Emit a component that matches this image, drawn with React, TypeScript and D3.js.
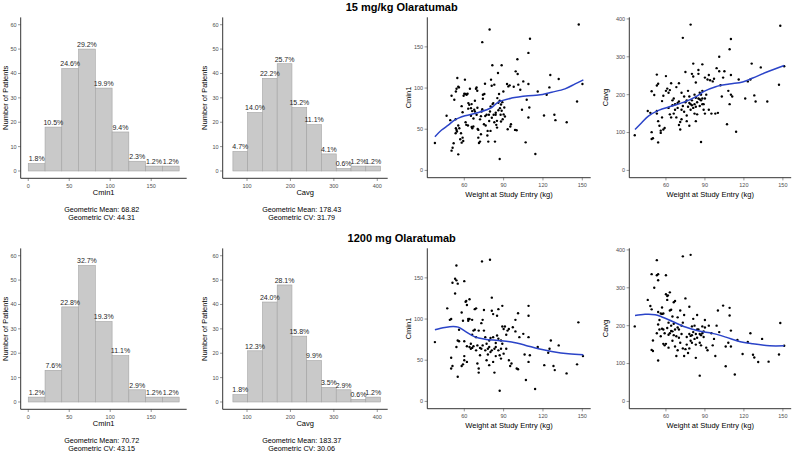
import React from 'react';
import * as d3 from 'd3';

const FONT = '"Liberation Sans", Arial, Helvetica, sans-serif';

// ---------- DATA ----------
const rowTitles = ['15 mg/kg Olaratumab', '1200 mg Olaratumab'];

const cmin1Edges = [0, 20.5, 40.9, 61.4, 81.8, 102.3, 122.7, 143.2, 163.6, 184.1];
const cavgEdges = [67.5, 101.5, 135.5, 169.5, 203.5, 237.5, 271.5, 305.5, 339.5, 373.5, 407.5];

const cmin1Counts15 = [3, 18, 42, 50, 34, 16, 4, 2, 2];
const cavgCounts15 = [8, 24, 38, 44, 26, 19, 7, 1, 2, 2];
const cmin1Counts1200 = [2, 13, 39, 56, 33, 19, 5, 2, 2];
const cavgCounts1200 = [3, 21, 41, 48, 27, 17, 6, 5, 1, 2];

const histYTicks = [0, 10, 20, 30, 40, 50, 60];
const cmin1HistTicks = [0, 50, 100, 150];
const cavgHistTicks = [100, 200, 300, 400];
const weightTicks = [60, 90, 120, 150];
const cmin1Ticks = [0, 50, 100, 150];
const cavgTicks = [0, 100, 200, 300, 400];

const geoStats15 = { cmin1: ['68.82', '44.31'], cavg: ['178.43', '31.79'] };
const geoStats1200 = { cmin1: ['70.72', '43.15'], cavg: ['183.37', '30.06'] };

// scatter: [weight (kg), concentration]
const scatter15Cmin1 = [
  [37.6,33.3],[46.5,66.3],[49.3,61],[50.3,90.7],[50.3,24],[51.1,27.6],[51.9,32.9],[52.4,85.8],[53.6,95.9],[54.1,99.2],
  [54.7,112.2],[55.4,101.6],[55.9,100.8],[53.4,62.2],[53.6,51.2],[53.4,45.1],[54.4,47.2],[54.1,49.2],[55.4,54.5],[56.2,51.2],
  [55.4,19.5],[56.9,37.8],[58,33.7],[59.2,35.8],[58.7,39.8],[57.5,45.1],[58,78],[58.7,70.7],[59.5,90.7],[60,93.1],
  [60.5,110.2],[61,92.7],[61.8,91.9],[62.5,93.1],[61.5,55.3],[61,58.5],[62.8,54.5],[63.1,81.7],[63.8,79.7],[64.3,99.2],
  [65.6,80.5],[65.1,75.6],[65.1,66.3],[65.6,52.8],[66.1,51.2],[66.9,53.3],[67.6,73.6],[68.1,71.5],[68.1,84.6],[68.9,99.2],
  [69.4,100.8],[69.9,96.7],[69.4,67.5],[70.2,50.4],[70.7,49.2],[70.7,39.8],[71.2,33.3],[72,35],[72.7,43.9],[72.7,65.9],
  [73.2,71.5],[73.7,74.4],[74.2,91.9],[74.2,87],[73.7,155.7],[75.3,92.7],[75.8,105.3],[76.3,54.5],[77,67.5],[77.6,42.3],
  [77.8,48],[78.3,35],[78.8,67.5],[79.3,171.1],[79.6,71.5],[80.1,77.6],[80.4,110.2],[80.9,102.8],[81.4,127.6],[81.6,80.5],
  [82.1,81.7],[82.4,67.5],[82.9,104.1],[82.9,58.5],[83.4,35],[83.9,67.5],[84.4,55.3],[84.9,60.2],[85.2,87.8],[85.7,118.3],
  [86,82.1],[86.5,92.7],[87,13.8],[87,84.6],[87.2,75.6],[87.7,67.5],[88,59.3],[88.5,127.6],[88.5,72.4],[89,82.9],
  [89.3,62.2],[89.8,95.9],[90.5,76.4],[91,65.4],[92.6,104.9],[93.1,50],[93.6,102],[94.6,103.3],[95.1,53.3],[95.6,56.1],
  [97.7,101.6],[98.7,49.2],[99.2,120.3],[99.9,48.8],[100.7,117.1],[101.2,104.1],[102.7,98],[104,73.6],[105,108.1],[106.8,34.1],
  [107.6,85.8],[108.9,142.7],[108.9,104.9],[108.9,64.2],[109.6,76.4],[110.1,159.8],[114.2,19.9],[116,95.9],[120.8,66.7],[122.8,91.9],
  [124.9,100.8],[125.6,115.9],[128.7,67.5],[129.5,61],[132,111],[138.1,58.5],[146,83.7],[147.3,177.2],[150.1,104.9],[100.5,135],
  [66,72],[70,76],[72,62],[76,66],[79,60],[81,64],[84,70],[86,73],[88,80],[90,68],[63,75],[67,63],[75,56],[80,48],[85,52],
];

const scatter15Cavg = [
  [36,93],[46,157],[48,152],[49,83],[50,85],[49,101],[49,209],[51,199],[53,253],[53,224],[54,229],[53,157],[53,150],[54,130],
  [55,118],[54,74],[56,105],[56,99],[58,108],[59,112],[57,183],[58,197],[60,249],[60,210],[61,216],[62,205],[63,212],[63,148],
  [64,140],[64,230],[65,185],[66,190],[66,150],[67,160],[67,175],[68,220],[68,140],[69,178],[69,165],[70,230],[70,120],[71,108],
  [71,128],[72,205],[72,135],[73,350],[73,170],[74,195],[74,155],[75,260],[75,180],[76,145],[76,130],[77,210],[77,168],[78,178],
  [78,118],[79,385],[79,175],[79,160],[80,255],[80,185],[81,248],[81,282],[81,165],[82,200],[82,175],[82,150],[83,232],[83,192],
  [83,130],[84,148],[84,180],[85,265],[85,255],[85,190],[86,205],[86,170],[87,75],[87,200],[87,185],[88,280],[88,210],[88,190],
  [89,160],[89,175],[90,245],[90,150],[91,200],[92,240],[93,252],[93,160],[94,238],[95,150],[96,235],[97,242],[98,150],[99,270],
  [100,152],[101,300],[101,262],[102,225],[103,195],[104,245],[105,262],[107,122],[108,210],[109,175],[109,320],[110,347],[110,252],
  [110,200],[111,195],[114,102],[116,240],[121,190],[123,235],[125,240],[126,282],[128,198],[129,182],[133,272],[138,182],[147,226],
  [148,382],[151,275],[62,165],[65,172],[70,182],[72,160],[76,185],[78,195],[80,172],[83,168],[86,188],[88,175],[90,190],[57,140],
];

const scatter1200Cmin1 = [
  [37.6,72],[47,113],[49,99],[50,100],[50,53],[50,40],[51,43],[51,144],[53,131],[53,149],[54,147],[54,165],[55,143],[55,74],
  [54,66],[55,30],[56,87],[56,73],[58,108],[59,98],[60,146],[60,73],[60,50],[59,45],[58,43],[60,55],[61,121],[61.5,122],[62,117],
  [62,48],[63,100],[64,124],[64,100],[64,66],[65,64],[66,65],[66,99],[67,86],[68,112],[69,113],[68,87],[69,78],[70,46],[71,35],
  [71,40],[72,56],[73,64],[73.5,170],[73,95],[74,99],[75,111],[76,62],[77,50],[78,57],[79,44],[79.6,172],[79,74],[81,126],[81,110],
  [82,106],[82,78],[83,35],[82,48],[84,71],[84,66],[85,104],[86,112],[86,76],[87,13],[88,74],[89,116],[89,91],[90,88],[90,58],
  [92,64],[92,81],[94,88],[95,43],[96,46],[99,85],[99,99],[100,40],[101,39],[101,107],[102,78],[105,82],[106,57],[107,26],[109,104],
  [109,116],[109,78],[110,56],[109,48],[114,15],[116,66],[121,44],[124,59],[125,64],[126,74],[128,43],[129,38],[132,68],[138,34],
  [146,45],[147,96],[150.5,55],
  [62,67],[63,98],[65,70],[67,67],[70,68],[71,86],[72,65],[74,68],[75,86],[76,78],[77,70],[78,64],[79,66],[80,77],[80,60],
  [81,62],[83,64],[84,55],[85,80],[86,62],[87,56],[88,64],[88,52],[89,70],[91,91],[93,86],[94,50],[97,90],[66,81],[69,62],
];

const scatter1200Cavg = [
  [36,198],[46,268],[48,252],[49,243],[49,336],[50,161],[49,136],[50,133],[51,300],[53,333],[53,373],[54,320],[54,336],[54,236],
  [53,180],[54,203],[55,190],[54,108],[55,215],[56,232],[57,231],[57,192],[58,190],[58,152],[59,148],[60,333],[60,283],[61,278],
  [61.5,280],[61,268],[62,176],[62,208],[63,288],[63,240],[64,242],[65,224],[66,262],[67,265],[66,205],[67,145],[68,120],[69,135],
  [70,168],[71,155],[73,383],[73,208],[74,228],[75,272],[76,170],[79,387],[78,250],[78,178],[79,173],[80,175],[80,198],[81,218],
  [82,200],[83,115],[83,178],[84,228],[86,68],[85,190],[86,155],[87,175],[88,198],[89,170],[90,195],[90,215],[91,142],[92,135],
  [93,200],[95,180],[96,148],[97,165],[98,120],[99,200],[100,240],[101,183],[104,253],[106,93],[106,145],[108,155],[109,247],
  [109,227],[110,187],[110,145],[113,71],[115,162],[119,125],[123,157],[125,180],[127,123],[128,116],[131,104],[134,165],[139,105],
  [147,124],[148,207],[151,147],
  [60,152],[62,142],[63,180],[64,200],[65,185],[66,175],[68,172],[69,195],[70,190],[71,240],[72,178],[73,140],[74,120],[75,138],
  [76,150],[77,128],[79,160],[80,155],[81,183],[82,165],[83,150],[84,168],[84,190],[86,178],[87,148],[88,180],[89,185],[72,200],
  [65,160],[78,140],[58,232],[57,248],[56,172],[59,180],[61,194],[64,186],[67,190],[69,222],
];

// LOESS smooth curves: [weight, fitted value]
const smooth15Cmin1 = [[37.6,41],[42.7,49],[47.8,55],[52.9,61.4],[60.5,66.3],[70.7,70.3],[80.9,76.4],[86,83],[96,87.8],[108.9,90.7],[116.5,91.5],[126.7,95],[136.8,99],[144.5,105],[150.8,110]];
const smooth15Cavg = [[36.2,107.8],[41.3,125.6],[46.5,143.4],[54.3,158.6],[64.7,170],[75,181.7],[82.8,194],[89.3,208.5],[98.3,221],[108.7,228],[119,233.4],[126.8,244],[137.2,259],[151,277]];
const smooth1200Cmin1 = [[37.6,87],[45.2,89.8],[51.6,91],[55.4,90.2],[60.5,85.3],[68.1,78.4],[75.8,75.6],[86,74],[96.1,72],[106.3,68.3],[116.5,63.9],[126.7,60.7],[139.4,57.8],[150.8,56.6]];
const smooth1200Cavg = [[36.2,226.7],[43.9,230],[51.7,229],[56.9,223],[64.7,211.6],[75,196.4],[85.4,185.8],[95.8,179.6],[106.1,169.8],[116.5,158.2],[126.8,152],[139.8,146.7],[151,146.7]];

// ---------- LAYOUT ----------
const ROW_DY = 231;
const TICK_LEN = 2.7;
const TICK_FS = 5.5;
const TITLE_FS = 7.5;

type Box = { l: number; r: number; t: number; b: number };

function Hist(props: {
  edges: number[]; counts: number[]; xDomain: [number, number]; xTicks: number[];
  xLabel: string; geo: string[]; box: Box; yTitleX: number; geoX: number; dy: number;
}) {
  const { edges, counts, xDomain, xTicks, xLabel, geo, box, yTitleX, geoX, dy } = props;
  const x = d3.scaleLinear().domain(xDomain).range([box.l, box.r]);
  const y = d3.scaleLinear().domain([-3, 63]).range([box.b + dy, box.t + dy]);
  const total = d3.sum(counts);
  const cx = (box.l + box.r) / 2;
  return (
    <g>
      {counts.map((c, i) => (
        <rect key={'b' + i} x={x(edges[i])} y={y(c)} width={x(edges[i + 1]) - x(edges[i])}
          height={y(0) - y(c)} fill="#c9c9c9" stroke="#a3a3a3" strokeWidth={0.6} />
      ))}
      {counts.map((c, i) => (
        <text key={'l' + i} x={(x(edges[i]) + x(edges[i + 1])) / 2} y={y(c) - 2.2}
          textAnchor="middle" fontSize={7} fill="#262626">{((c / total) * 100).toFixed(1) + '%'}</text>
      ))}
      <line x1={box.l} x2={box.l} y1={box.t + dy} y2={box.b + dy} stroke="#000" strokeWidth={0.8} />
      <line x1={box.l} x2={box.r} y1={box.b + dy} y2={box.b + dy} stroke="#000" strokeWidth={0.8} />
      {histYTicks.map((t) => (
        <g key={'yt' + t}>
          <line x1={box.l - TICK_LEN} x2={box.l} y1={y(t)} y2={y(t)} stroke="#333" strokeWidth={0.5} />
          <text x={box.l - TICK_LEN - 1.5} y={y(t)} dy="0.35em" textAnchor="end" fontSize={TICK_FS} fill="#4d4d4d">{t}</text>
        </g>
      ))}
      {xTicks.map((t) => (
        <g key={'xt' + t}>
          <line x1={x(t)} x2={x(t)} y1={box.b + dy} y2={box.b + dy + TICK_LEN} stroke="#333" strokeWidth={0.5} />
          <text x={x(t)} y={box.b + dy + 7.3} dy="0.35em" textAnchor="middle" fontSize={TICK_FS} fill="#4d4d4d">{t}</text>
        </g>
      ))}
      <text x={cx} y={192.7 + dy} dy="0.35em" textAnchor="middle" fontSize={TITLE_FS} fill="#000">{xLabel}</text>
      <text transform={`translate(${yTitleX},${(box.t + box.b) / 2 + dy}) rotate(-90)`} dy="0.35em"
        textAnchor="middle" fontSize={TITLE_FS} fill="#000">Number of Patients</text>
      <text x={geoX} y={209.6 + dy} dy="0.35em" textAnchor="middle" fontSize={7.2} fill="#000">{'Geometric Mean: ' + geo[0]}</text>
      <text x={geoX} y={217.6 + dy} dy="0.35em" textAnchor="middle" fontSize={7.2} fill="#000">{'Geometric CV: ' + geo[1]}</text>
    </g>
  );
}

function Scatter(props: {
  points: number[][]; smooth: number[][]; yDomain: [number, number]; yTicks: number[];
  yLabel: string; box: Box; yTitleX: number; dy: number;
}) {
  const { points, smooth, yDomain, yTicks, yLabel, box, yTitleX, dy } = props;
  const x = d3.scaleLinear().domain([31.8, 156.4]).range([box.l, box.r]);
  const y = d3.scaleLinear().domain(yDomain).range([box.b + dy, box.t + dy]);
  const line = d3.line<number[]>().x((d) => x(d[0])).y((d) => y(d[1])).curve(d3.curveCatmullRom.alpha(0.5));
  const cx = (box.l + box.r) / 2;
  return (
    <g>
      {points.map((p, i) => (
        <circle key={'p' + i} cx={x(p[0])} cy={y(p[1])} r={1.2} fill="#000" />
      ))}
      <path d={line(smooth) || ''} fill="none" stroke="#2b44c8" strokeWidth={1.5} />
      <line x1={box.l} x2={box.l} y1={box.t + dy} y2={box.b + dy} stroke="#000" strokeWidth={0.8} />
      <line x1={box.l} x2={box.r} y1={box.b + dy} y2={box.b + dy} stroke="#000" strokeWidth={0.8} />
      {yTicks.map((t) => (
        <g key={'yt' + t}>
          <line x1={box.l - TICK_LEN} x2={box.l} y1={y(t)} y2={y(t)} stroke="#333" strokeWidth={0.5} />
          <text x={box.l - TICK_LEN - 1.5} y={y(t)} dy="0.35em" textAnchor="end" fontSize={TICK_FS} fill="#4d4d4d">{t}</text>
        </g>
      ))}
      {weightTicks.map((t) => (
        <g key={'xt' + t}>
          <line x1={x(t)} x2={x(t)} y1={box.b + dy} y2={box.b + dy + TICK_LEN} stroke="#333" strokeWidth={0.5} />
          <text x={x(t)} y={box.b + dy + 7.3} dy="0.35em" textAnchor="middle" fontSize={TICK_FS} fill="#4d4d4d">{t}</text>
        </g>
      ))}
      <text x={cx} y={194 + dy} dy="0.35em" textAnchor="middle" fontSize={TITLE_FS} fill="#000">Weight at Study Entry (kg)</text>
      <text transform={`translate(${yTitleX},${(box.t + box.b) / 2 + dy}) rotate(-90)`} dy="0.35em"
        textAnchor="middle" fontSize={TITLE_FS} fill="#000">{yLabel}</text>
    </g>
  );
}

const hist1Box: Box = { l: 20.7, r: 186.7, t: 17.4, b: 178.3 };
const hist2Box: Box = { l: 222.7, r: 387.7, t: 17.4, b: 178.3 };
const sc1Box: Box = { l: 427.3, r: 590.7, t: 17.3, b: 177.7 };
const sc2Box: Box = { l: 629.3, r: 791.2, t: 17.3, b: 177.7 };

export default function App() {
  const rows = [
    { title: rowTitles[0], c1: cmin1Counts15, ca: cavgCounts15, geo: geoStats15, s1: scatter15Cmin1, s2: scatter15Cavg, m1: smooth15Cmin1, m2: smooth15Cavg },
    { title: rowTitles[1], c1: cmin1Counts1200, ca: cavgCounts1200, geo: geoStats1200, s1: scatter1200Cmin1, s2: scatter1200Cavg, m1: smooth1200Cmin1, m2: smooth1200Cavg },
  ];
  return (
    <div style={{ position: 'fixed', left: 0, top: 0 }}>
      <svg width={793} height={453} style={{ display: 'block', background: '#fff' }} fontFamily={FONT}>
        <rect x={0} y={0} width={793} height={453} fill="#fff" />
        {rows.map((r, i) => {
          const dy = i * ROW_DY;
          return (
            <g key={i}>
              <text x={401.7} y={6.7 + dy} dy="0.35em" textAnchor="middle" fontSize={11} fontWeight="bold" fill="#000">{r.title}</text>
              <Hist edges={cmin1Edges} counts={r.c1} xDomain={[-9.2, 193.3]} xTicks={cmin1HistTicks} xLabel="Cmin1"
                geo={r.geo.cmin1} box={hist1Box} yTitleX={5} geoX={101.7} dy={dy} />
              <Hist edges={cavgEdges} counts={r.ca} xDomain={[44, 424]} xTicks={cavgHistTicks} xLabel="Cavg"
                geo={r.geo.cavg} box={hist2Box} yTitleX={204.3} geoX={301.7} dy={dy} />
              <Scatter points={r.s1} smooth={r.m1} yDomain={[-8.85, 185.9]} yTicks={cmin1Ticks} yLabel="Cmin1"
                box={sc1Box} yTitleX={408.3} dy={dy} />
              <Scatter points={r.s2} smooth={r.m2} yDomain={[-19.25, 404.25]} yTicks={cavgTicks} yLabel="Cavg"
                box={sc2Box} yTitleX={605} dy={dy} />
            </g>
          );
        })}
      </svg>
    </div>
  );
}
